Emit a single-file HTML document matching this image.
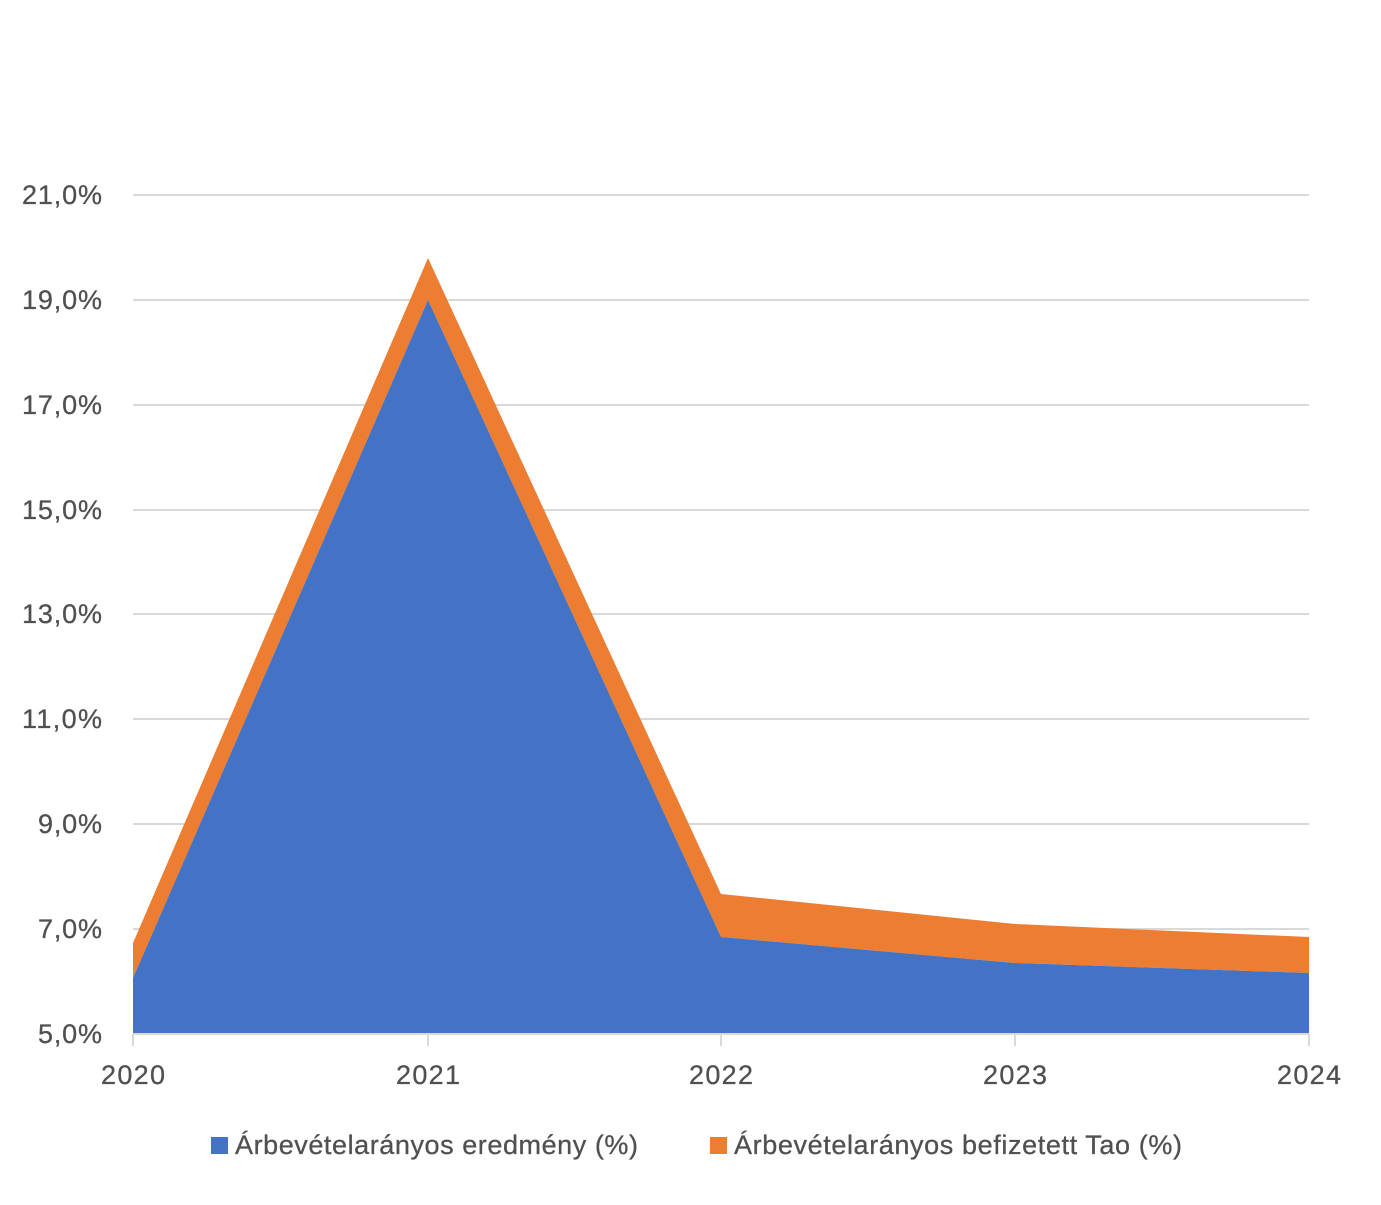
<!DOCTYPE html>
<html><head><meta charset="utf-8"><style>body{margin:0;background:#fff}</style></head><body>
<svg width="1381" height="1200" xmlns="http://www.w3.org/2000/svg" font-family="Liberation Sans, sans-serif">
<g stroke="#d9d9d9" stroke-width="2">
<line x1="133" x2="1309" y1="195" y2="195"/><line x1="133" x2="1309" y1="300" y2="300"/>
<line x1="133" x2="1309" y1="405" y2="405"/><line x1="133" x2="1309" y1="510" y2="510"/>
<line x1="133" x2="1309" y1="614" y2="614"/><line x1="133" x2="1309" y1="719" y2="719"/>
<line x1="133" x2="1309" y1="824" y2="824"/><line x1="133" x2="1309" y1="929" y2="929"/>
</g>
<polygon fill="#ed7d31" points="133,943 428,258 721,894 1015,924 1309,937 1309,973 1015,963 721,937 428,300 133,978"/>
<polygon fill="#4472c4" points="133,978 428,300 721,937 1015,963 1309,973 1309,1034 133,1034"/>
<g stroke="#d9d9d9" stroke-width="2">
<line x1="133" x2="1309" y1="1034" y2="1034"/>
<line x1="133" x2="133" y1="1034" y2="1046"/><line x1="428" x2="428" y1="1034" y2="1046"/>
<line x1="721" x2="721" y1="1034" y2="1046"/><line x1="1015" x2="1015" y1="1034" y2="1046"/>
<line x1="1309" x2="1309" y1="1034" y2="1046"/>
</g>
<g fill="#505050" font-size="27" stroke="#505050" stroke-width="0.3">
<text x="22" y="204" textLength="80">21,0%</text><text x="22" y="309" textLength="80">19,0%</text><text x="22" y="414" textLength="80">17,0%</text>
<text x="22" y="519" textLength="80">15,0%</text><text x="22" y="623" textLength="80">13,0%</text><text x="22" y="728" textLength="80">11,0%</text>
<text x="38" y="833" textLength="64">9,0%</text><text x="38" y="938" textLength="64">7,0%</text><text x="38" y="1043" textLength="64">5,0%</text>
<text x="101" y="1084" textLength="64">2020</text><text x="396" y="1084" textLength="64">2021</text><text x="689" y="1084" textLength="64">2022</text>
<text x="983" y="1084" textLength="64">2023</text><text x="1277" y="1084" textLength="64">2024</text>
<text x="235" y="1154" textLength="403">Árbevételarányos eredmény (%)</text>
<text x="734" y="1154" textLength="448">Árbevételarányos befizetett Tao (%)</text>
</g>
<rect x="211" y="1137" width="17" height="17" fill="#4472c4"/>
<rect x="710" y="1137" width="17" height="17" fill="#ed7d31"/>
</svg>
</body></html>
